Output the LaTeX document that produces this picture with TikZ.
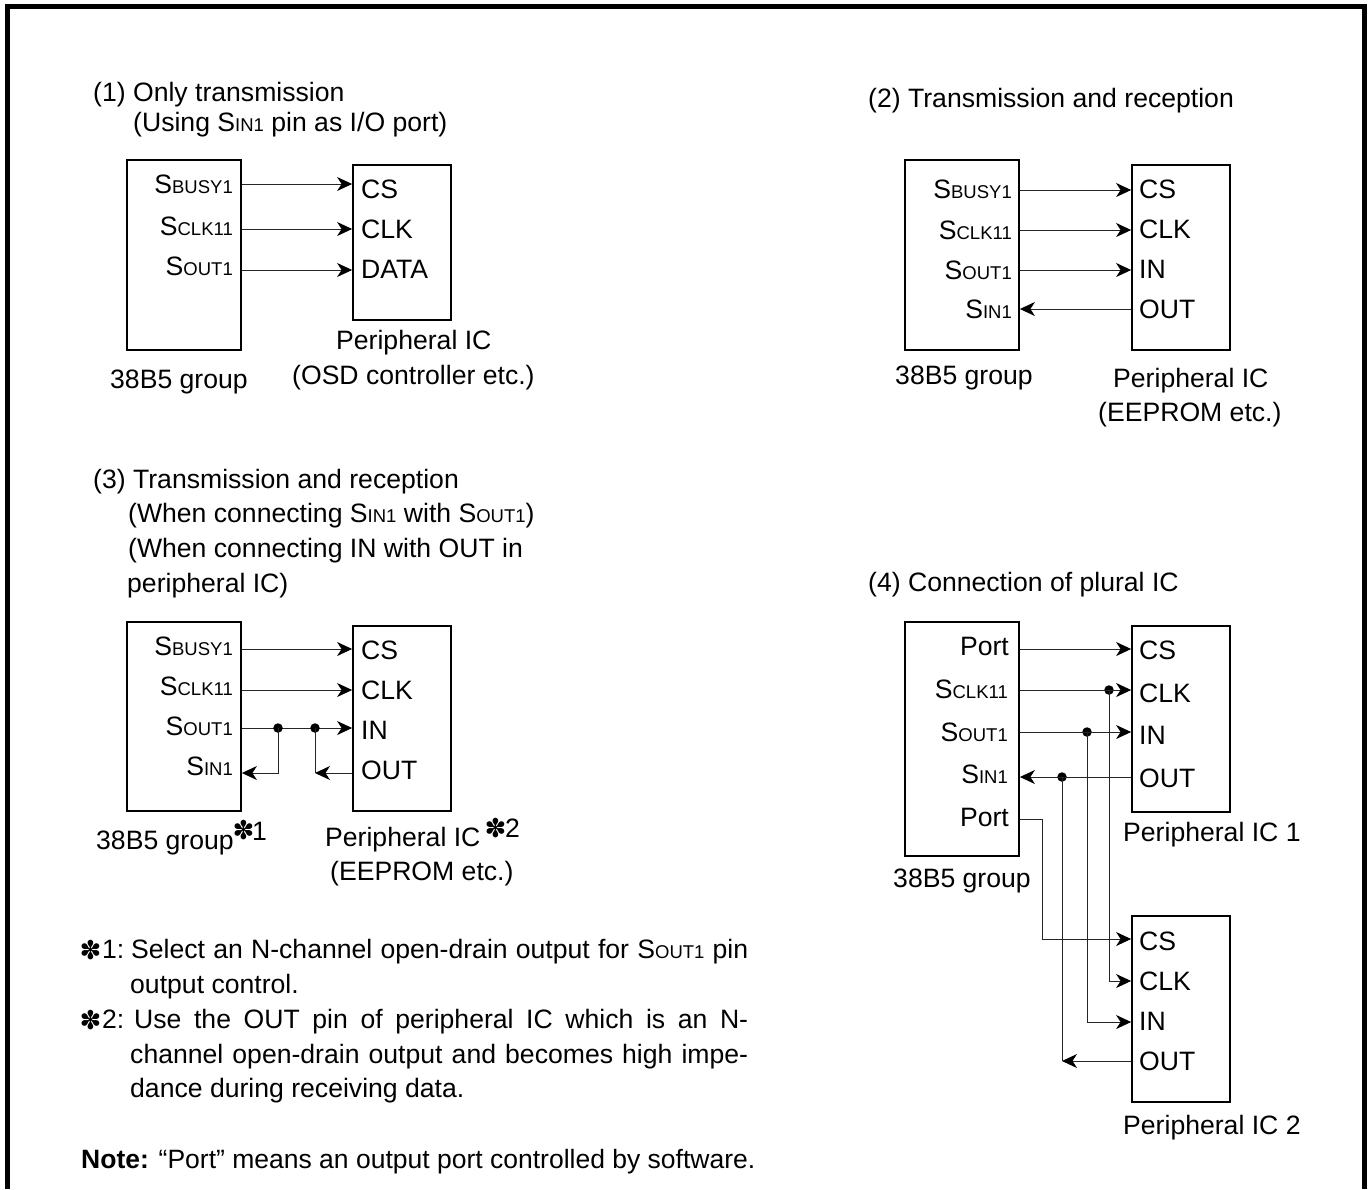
\documentclass[tikz,border=0pt]{standalone}
\usepackage{fontspec}
\setmainfont{Liberation Sans}
\newfontfamily\symfont{DejaVu Sans}
\usetikzlibrary{arrows.meta}
\newcommand{\smc}[1]{{\fontsize{18.5}{22}\selectfont #1}}
\newcommand{\Sx}[1]{S\smc{#1}}
\tikzset{
  icbox/.style={draw,line width=1.8pt,fill=none},
  sig/.style={line width=1pt,draw=black!85},
  arr/.style={sig,-{Stealth[length=15pt,width=14pt,inset=4.5pt,black]}},
  dotn/.style={circle,fill=black,inner sep=0pt,minimum size=9.5pt},
  txt/.style={anchor=base west,inner sep=0pt,font=\fontsize{26.6}{30}\selectfont},
  pin/.style={anchor=base east,inner sep=0pt,font=\fontsize{26.6}{30}\selectfont},
  astr/.style={anchor=center,inner sep=0pt,font=\symfont\fontsize{26}{30}\selectfont},
  frameln/.style={line width=5pt,line cap=butt,line join=miter}
}
\begin{document}
\begin{tikzpicture}[x=1pt,y=-1pt]
\useasboundingbox (0,0) rectangle (1370,1189);
\draw[frameln] (7.5,1189) -- (7.5,6.5) -- (1364.5,6.5) -- (1364.5,1189);
% (1)
\node[txt] (t1a) at (93,101) {(1) Only transmission};
\node[txt] (t1b) at (133,131) {(Using \Sx{IN1} pin as I/O port)};
\node[icbox,minimum width=114pt,minimum height=190pt,inner sep=0pt] (A) at (184,255) {};
\node[icbox,minimum width=98pt,minimum height=155pt,inner sep=0pt] (B) at (402,242.5) {};
\node[pin] (A1) at (233,193) {\Sx{BUSY1}};
\node[pin] (A2) at (233,235) {\Sx{CLK11}};
\node[pin] (A3) at (233,275) {\Sx{OUT1}};
\node[txt] (B1) at (361,198.5) {CS};
\node[txt] (B2) at (361,238) {CLK};
\node[txt] (B3) at (361,278) {DATA};
\draw[arr] (A.east|-0,184) coordinate (a1) -- (B.west|-a1);
\draw[arr] (A.east|-0,229) coordinate (a2) -- (B.west|-a2);
\draw[arr] (A.east|-0,270) coordinate (a3) -- (B.west|-a3);
\node[txt] (l1a) at (110,388) {38B5 group};
\node[txt] (l1b) at (336,349) {Peripheral IC};
\node[txt] (l1c) at (292,384) {(OSD controller etc.)};
% (2)
\node[txt] (t2) at (868,107) {(2) Transmission and reception};
\node[icbox,minimum width=114pt,minimum height=190pt,inner sep=0pt] (C) at (962,255) {};
\node[icbox,minimum width=98pt,minimum height=185pt,inner sep=0pt] (D) at (1181,257.5) {};
\node[pin] (C1) at (1012,198) {\Sx{BUSY1}};
\node[pin] (C2) at (1012,239) {\Sx{CLK11}};
\node[pin] (C3) at (1012,279) {\Sx{OUT1}};
\node[pin] (C4) at (1012,318.5) {\Sx{IN1}};
\node[txt] (D1) at (1139,198.5) {CS};
\node[txt] (D2) at (1139,238) {CLK};
\node[txt] (D3) at (1139,278) {IN};
\node[txt] (D4) at (1139,318) {OUT};
\draw[arr] (C.east|-0,190) coordinate (c1) -- (D.west|-c1);
\draw[arr] (C.east|-0,230) coordinate (c2) -- (D.west|-c2);
\draw[arr] (C.east|-0,270) coordinate (c3) -- (D.west|-c3);
\draw[arr] (D.west|-0,309) coordinate (c4) -- (C.east|-c4);
\node[txt] (l2a) at (895,384) {38B5 group};
\node[txt] (l2b) at (1113,387) {Peripheral IC};
\node[txt] (l2c) at (1098,421) {(EEPROM etc.)};
% (3)
\node[txt] (t3a) at (93,488) {(3) Transmission and reception};
\node[txt] (t3b) at (128,522) {(When connecting \Sx{IN1} with \Sx{OUT1})};
\node[txt] (t3c) at (128,557) {(When connecting IN with OUT in};
\node[txt] (t3d) at (127,592) {peripheral IC)};
\node[icbox,minimum width=114pt,minimum height=189pt,inner sep=0pt] (E) at (184,716.5) {};
\node[icbox,minimum width=98pt,minimum height=185pt,inner sep=0pt] (F) at (402,718.5) {};
\node[pin] (E1) at (233,655) {\Sx{BUSY1}};
\node[pin] (E2) at (233,695) {\Sx{CLK11}};
\node[pin] (E3) at (233,735) {\Sx{OUT1}};
\node[pin] (E4) at (233,775) {\Sx{IN1}};
\node[txt] (F1) at (361,659) {CS};
\node[txt] (F2) at (361,699) {CLK};
\node[txt] (F3) at (361,739) {IN};
\node[txt] (F4) at (361,779) {OUT};
\draw[arr] (E.east|-0,649) coordinate (e1) -- (F.west|-e1);
\draw[arr] (E.east|-0,690) coordinate (e2) -- (F.west|-e2);
\draw[arr] (E.east|-0,728) coordinate (e3) -- (F.west|-e3);
\node[dotn] (j1) at (278,728) {};
\node[dotn] (j2) at (315,728) {};
\draw[arr] (j1.center) |- (E.east|-0,773);
\draw[sig] (j2.center) -- (j2.center|-0,773);
\draw[arr] (F.west|-0,773) -- (j2.center|-0,773);
\node[txt] (l3a) at (96,849) {38B5 group};
\node[astr] (s3a) at (243.5,830) {✽};
\node[txt] (s3b) at (252,840) {1};
\node[txt] (l3b) at (325,846) {Peripheral IC};
\node[astr] (s3c) at (495.5,828) {✽};
\node[txt] (s3d) at (505,837) {2};
\node[txt] (l3c) at (330,880) {(EEPROM etc.)};
% notes
\node[astr] (m1) at (90.5,950) {✽};
\node[txt] (n1k) at (102,958) {1:};
\node[txt] (n1a) at (131,958) {\makebox[617pt][s]{Select an N-channel open-drain output for \Sx{OUT1} pin}};
\node[txt] (n1b) at (130,993) {output control.};
\node[astr] (m2) at (90.5,1020) {✽};
\node[txt] (n2k) at (102,1028) {2:};
\node[txt] (n2a) at (134,1028) {\makebox[614pt][s]{Use the OUT pin of peripheral IC which is an N-}};
\node[txt] (n2b) at (130,1063) {\makebox[618pt][s]{channel open-drain output and becomes high impe-}};
\node[txt] (n2c) at (130,1097) {dance during receiving data.};
\node[txt,font=\fontsize{26.5}{30}\selectfont] (n3) at (81,1168) {\textbf{Note:} “Port” means an output port controlled by software.};
% (4)
\node[txt] (t4) at (868,591) {(4) Connection of plural IC};
\node[icbox,minimum width=114pt,minimum height=234pt,inner sep=0pt] (G) at (962,739) {};
\node[icbox,minimum width=98pt,minimum height=186pt,inner sep=0pt] (H) at (1181,719) {};
\node[icbox,minimum width=98pt,minimum height=186pt,inner sep=0pt] (K) at (1181,1009) {};
\node[pin] (G1) at (1009,655) {Port};
\node[pin] (G2) at (1008,698) {\Sx{CLK11}};
\node[pin] (G3) at (1008,741) {\Sx{OUT1}};
\node[pin] (G4) at (1008,783) {\Sx{IN1}};
\node[pin] (G5) at (1009,826) {Port};
\node[txt] (H1) at (1139,659) {CS};
\node[txt] (H2) at (1139,702) {CLK};
\node[txt] (H3) at (1139,744) {IN};
\node[txt] (H4) at (1139,787) {OUT};
\node[txt] (K1) at (1139,950) {CS};
\node[txt] (K2) at (1139,990) {CLK};
\node[txt] (K3) at (1139,1030) {IN};
\node[txt] (K4) at (1139,1070) {OUT};
\node[dotn] (j3) at (1109,690) {};
\node[dotn] (j4) at (1087,732) {};
\node[dotn] (j5) at (1062,777) {};
\draw[arr] (G.east|-0,649) coordinate (g1) -- (H.west|-g1);
\draw[arr] (G.east|-0,690) coordinate (g2) -- (H.west|-g2);
\draw[arr] (G.east|-0,732) coordinate (g3) -- (H.west|-g3);
\draw[arr] (H.west|-0,777) coordinate (g4) -- (G.east|-g4);
\coordinate (g5) at (G.east|-0,819);
\coordinate (g5b) at (1042,819);
\draw[arr] (g5) -- (g5b) |- (K.west|-0,939);
\draw[arr] (j3.center) |- (K.west|-0,981);
\draw[arr] (j4.center) |- (K.west|-0,1022);
\draw[sig] (j5.center) -- (j5.center|-0,1061);
\draw[arr] (K.west|-0,1061) -- (j5.center|-0,1061);
\node[txt] (l4a) at (893,887) {38B5 group};
\node[txt] (l4b) at (1123,841) {Peripheral IC 1};
\node[txt] (l4c) at (1123,1134) {Peripheral IC 2};
\end{tikzpicture}
\end{document}
